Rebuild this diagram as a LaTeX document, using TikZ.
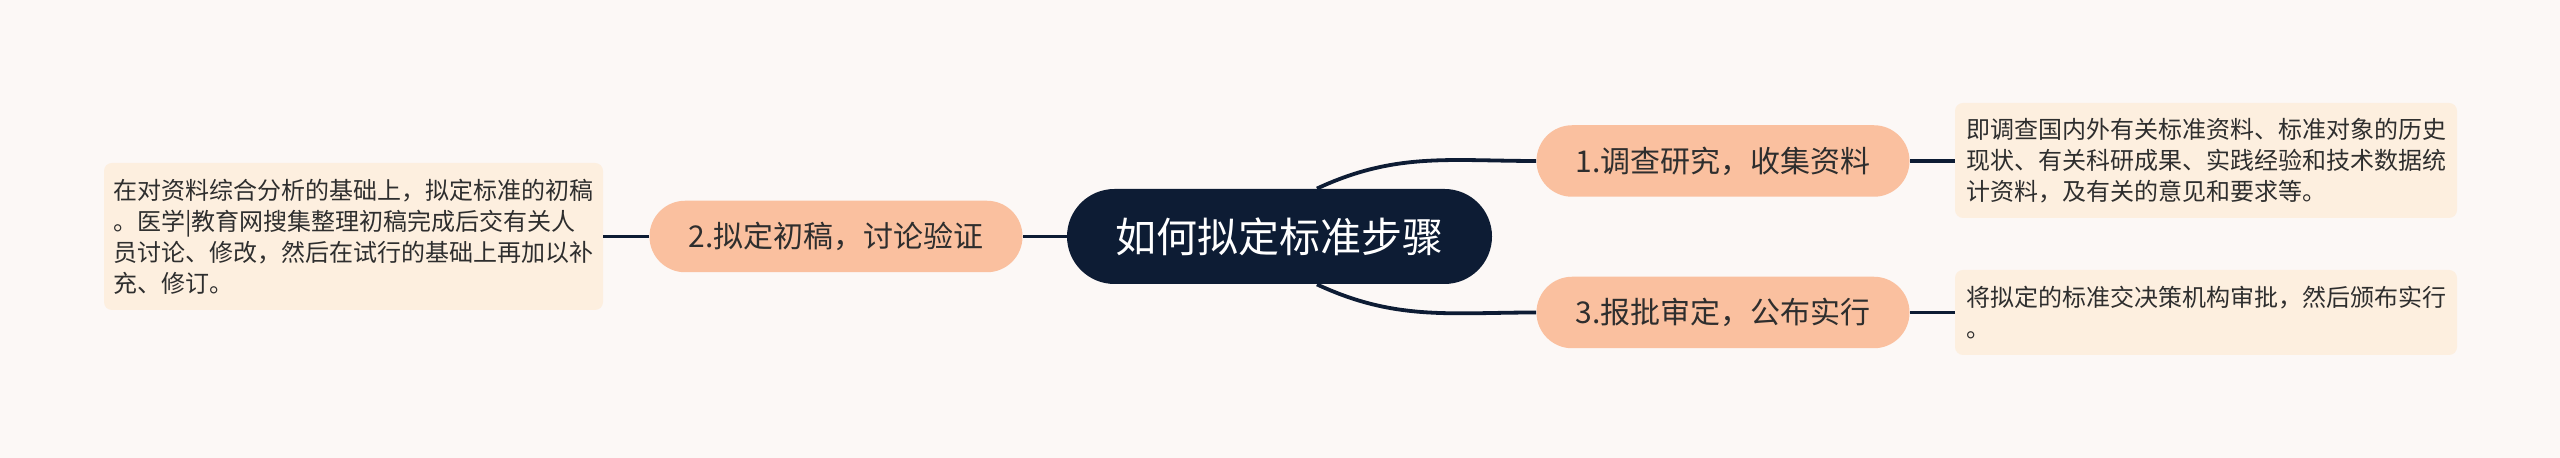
\documentclass[tikz,border=0pt]{standalone}
\usepackage{fontspec}
\setmainfont{Noto Sans CJK SC}
\definecolor{bgc}{HTML}{FCF8F6}
\definecolor{leafc}{HTML}{FDEFDF}
\definecolor{pillc}{HTML}{FAC09F}
\definecolor{rootc}{HTML}{0D1C34}
\definecolor{txtc}{HTML}{2E2E2E}
\tikzset{
  rootbox/.style={fill=rootc, text=white, minimum width=212.5pt, minimum height=47.5pt,
    rounded corners=23.75pt, inner sep=0pt, font=\fontsize{20.5}{24}\selectfont},
  pillbox/.style={fill=pillc, text=txtc, minimum width=186.5pt, minimum height=35.75pt,
    rounded corners=17.8pt, inner sep=0pt, font=\fontsize{15}{18}\selectfont},
  leafbox/.style={fill=leafc, text=txtc, rounded corners=4pt, text width=240pt, align=left,
    inner ysep=0pt, font=\fontsize{12}{15.5}\selectfont},
  link/.style={draw=rootc, line width=1.9pt}
}
\begin{document}
\begin{tikzpicture}[x=0.5pt,y=0.5pt]
\fill[bgc] (0,0) rectangle (2560,458);
\useasboundingbox (0,0) rectangle (2560,458);
\node[leafbox, minimum width=249.5pt, minimum height=73.5pt, inner xsep=4.75pt] (leaf2) at (353.5,221.5)
  {在对资料综合分析的基础上，拟定标准的初稿\\。医学|教育网搜集整理初稿完成后交有关人\\员讨论、修改，然后在试行的基础上再加以补\\充、修订。};
\node[leafbox, minimum width=251pt, minimum height=57.5pt, inner xsep=5.5pt] (leaf1) at (2206,297.5)
  {即调查国内外有关标准资料、标准对象的历史\\现状、有关科研成果、实践经验和技术数据统\\计资料，及有关的意见和要求等。};
\node[leafbox, minimum width=251pt, minimum height=42.5pt, inner xsep=5.5pt] (leaf3) at (2206,145.5)
  {将拟定的标准交决策机构审批，然后颁布实行\\。};
\node[pillbox] (n2) at (836,221.5) {2.拟定初稿，讨论验证};
\node[pillbox] (n1) at (1723,297) {1.调查研究，收集资料};
\node[pillbox] (n3) at (1723,145.5) {3.报批审定，公布实行};
\node[rootbox] (root) at (1279.5,221.5) {如何拟定标准步骤};
\draw[link] (root.52) to[out=25,in=180] (n1.west);
\draw[link] (root.-52) to[out=-25,in=180] (n3.west);
\draw[link] (root.west) -- (n2.east);
\draw[link] (n2.west) -- (leaf2.east);
\draw[link] (n1.east) -- (leaf1.west |- n1.east);
\draw[link] (n3.east) -- (leaf3.west |- n3.east);
\end{tikzpicture}
\end{document}
